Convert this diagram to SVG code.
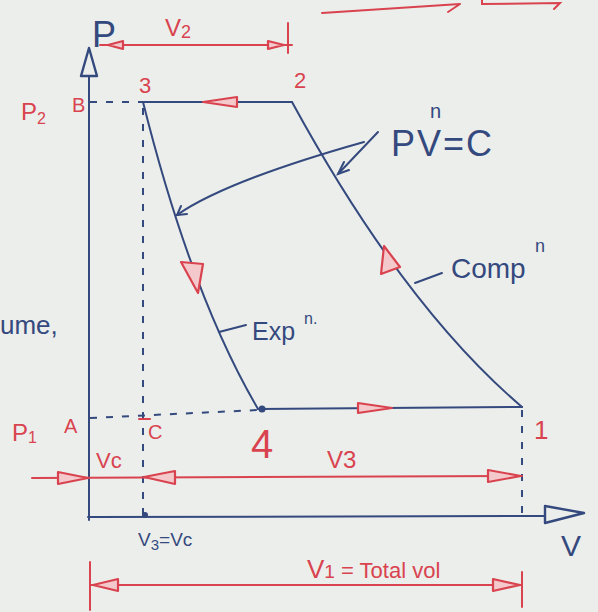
<svg xmlns="http://www.w3.org/2000/svg" width="598" height="612" viewBox="0 0 598 612">
<style>
  .bg { fill: #eceeeb; }
  .ink { fill: none; stroke: #34497e; stroke-width: 2; stroke-linecap: round; }
  .dash { fill: none; stroke: #34497e; stroke-width: 2; stroke-dasharray: 7 9; }
  .red { fill: none; stroke: #d9434f; stroke-width: 2; stroke-linecap: round; }
  .tri { fill: #f3c9cb; stroke: #d9434f; stroke-width: 2.2; stroke-linejoin: round; }
  .btri { fill: #eceeeb; stroke: #34497e; stroke-width: 2.4; stroke-linejoin: round; }
  .bt { fill: #34497e; font-family: "Liberation Sans", "DejaVu Sans", sans-serif; }
  .rt { fill: #d9434f; font-family: "Liberation Sans", "DejaVu Sans", sans-serif; }
</style>
<rect class="bg" x="0" y="0" width="598" height="612"/>

<!-- fragments at top right -->
<g id="fragments">
  <path class="red" d="M322,13 L460,4 M460,4 L448,12"/>
  <path class="red" d="M482,0 L482,4 L560,3 L554,9"/>
  <text class="bt" x="0" y="334" font-size="26">ume,</text>
</g>

<!-- axes -->
<g id="p-axis">
  <line class="ink" x1="89" y1="72" x2="89" y2="520"/>
  <polygon class="btri" points="89,48 81,76 97,76"/>
  <text class="bt" x="92" y="47" font-size="36">P</text>
</g>
<g id="v-axis">
  <line class="ink" x1="88" y1="517" x2="546" y2="516"/>
  <polygon class="btri" points="584,513 545,506 545,523"/>
  <text class="bt" x="561" y="556" font-size="30">V</text>
</g>

<!-- connectors: cycle lines, dashed projections, dimension lines -->
<g id="connectors">
  <line class="ink" x1="143" y1="102" x2="292" y2="102"/>
  <path class="ink" d="M292,102 C340,190 420,320 522,407"/>
  <path class="ink" d="M143,102 C165,190 200,310 258,409"/>
  <line class="ink" x1="258" y1="409" x2="522" y2="407"/>

  <line class="dash" x1="90" y1="102" x2="143" y2="102"/>
  <line class="dash" x1="143" y1="108" x2="143" y2="517"/>
  <line class="dash" x1="90" y1="418" x2="258" y2="410"/>
  <line class="dash" x1="522" y1="410" x2="522" y2="517"/>

  <!-- PV^n=C leaders -->
  <line class="ink" x1="378" y1="132" x2="338" y2="174"/>
  <path class="ink" d="M344,162 L338,174 L349,170"/>
  <path class="ink" d="M364,142 C300,160 220,185 177,215"/>
  <path class="ink" d="M181,206 L177,215 L187,214"/>
  <!-- label leaders -->
  <line class="ink" x1="415" y1="283" x2="442" y2="273"/>
  <line class="ink" x1="219" y1="332" x2="246" y2="325"/>

  <!-- direction arrows on cycle -->
  <polygon class="tri" points="203,102 237,97 237,107"/>
  <polygon class="tri" points="392,408 358,403 358,413"/>
  <polygon class="tri" points="384,246 381,274 400,267"/>
  <polygon class="tri" points="198,293 181,262 203,264"/>

  <!-- V2 dimension -->
  <line class="red" x1="100" y1="45" x2="292" y2="45"/>
  <line class="red" x1="288" y1="23" x2="288" y2="53"/>
  <polygon class="tri" points="108,45 123,41 123,49"/>
  <polygon class="tri" points="284,45 268,41 268,49"/>

  <!-- Vc / V3 dimension -->
  <line class="red" x1="32" y1="478" x2="522" y2="476"/>
  <polygon class="tri" points="88,478 58,472 58,484"/>
  <polygon class="tri" points="144,477 175,471 175,484"/>
  <polygon class="tri" points="521,476 488,470 488,482"/>

  <!-- V1 dimension -->
  <line class="red" x1="90" y1="585" x2="522" y2="585"/>
  <line class="red" x1="90" y1="562" x2="90" y2="610"/>
  <line class="red" x1="522" y1="572" x2="522" y2="607"/>
  <polygon class="tri" points="93,585 118,579 118,591"/>
  <polygon class="tri" points="520,585 493,579 493,591"/>
</g>

<!-- state points -->
<g id="point-3">
  <text class="rt" x="139" y="93" font-size="22">3</text>
</g>
<g id="point-2">
  <text class="rt" x="294" y="88" font-size="22">2</text>
</g>
<g id="point-4">
  <circle cx="262" cy="409" r="3.5" fill="#34497e"/>
  <text class="rt" x="251" y="458" font-size="40">4</text>
</g>
<g id="point-1">
  <text class="rt" x="534" y="439" font-size="26">1</text>
</g>

<!-- axis labels -->
<g id="label-p2">
  <text class="rt" x="21" y="120" font-size="24">P<tspan font-size="16" dy="4">2</tspan></text>
  <text class="rt" x="72" y="112" font-size="20">B</text>
</g>
<g id="label-p1">
  <text class="rt" x="12" y="441" font-size="24">P<tspan font-size="16" dy="2">1</tspan></text>
  <text class="rt" x="64" y="433" font-size="20">A</text>
  <line class="red" x1="139" y1="419" x2="150" y2="419"/>
  <text class="rt" x="148" y="439" font-size="20">C</text>
</g>
<g id="label-v2">
  <text class="rt" x="165" y="36" font-size="24">V<tspan font-size="18" dy="2">2</tspan></text>
</g>
<g id="label-vc">
  <text class="rt" x="96" y="468" font-size="22">Vc</text>
</g>
<g id="label-v3">
  <text class="rt" x="327" y="468" font-size="24">V3</text>
</g>
<g id="label-v3vc">
  <circle cx="145" cy="515" r="3" fill="#34497e"/>
  <text class="bt" x="138" y="546" font-size="19">V<tspan font-size="15" dy="4">3</tspan><tspan dy="-4">=Vc</tspan></text>
</g>
<g id="label-v1">
  <text class="rt" x="307" y="578" font-size="26">V<tspan font-size="19" dy="0">1</tspan><tspan font-size="22"> = Total vol</tspan></text>
</g>

<!-- process labels -->
<g id="label-pvn">
  <text class="bt" x="391" y="156" font-size="36" letter-spacing="2">PV=C</text>
  <text class="bt" x="430" y="118" font-size="20">n</text>
</g>
<g id="label-comp">
  <text class="bt" x="451" y="278" font-size="28">Comp</text>
  <text class="bt" x="535" y="252" font-size="18">n</text>
</g>
<g id="label-exp">
  <text class="bt" x="252" y="340" font-size="25">Exp</text>
  <text class="bt" x="304" y="324" font-size="16">n.</text>
</g>
</svg>
